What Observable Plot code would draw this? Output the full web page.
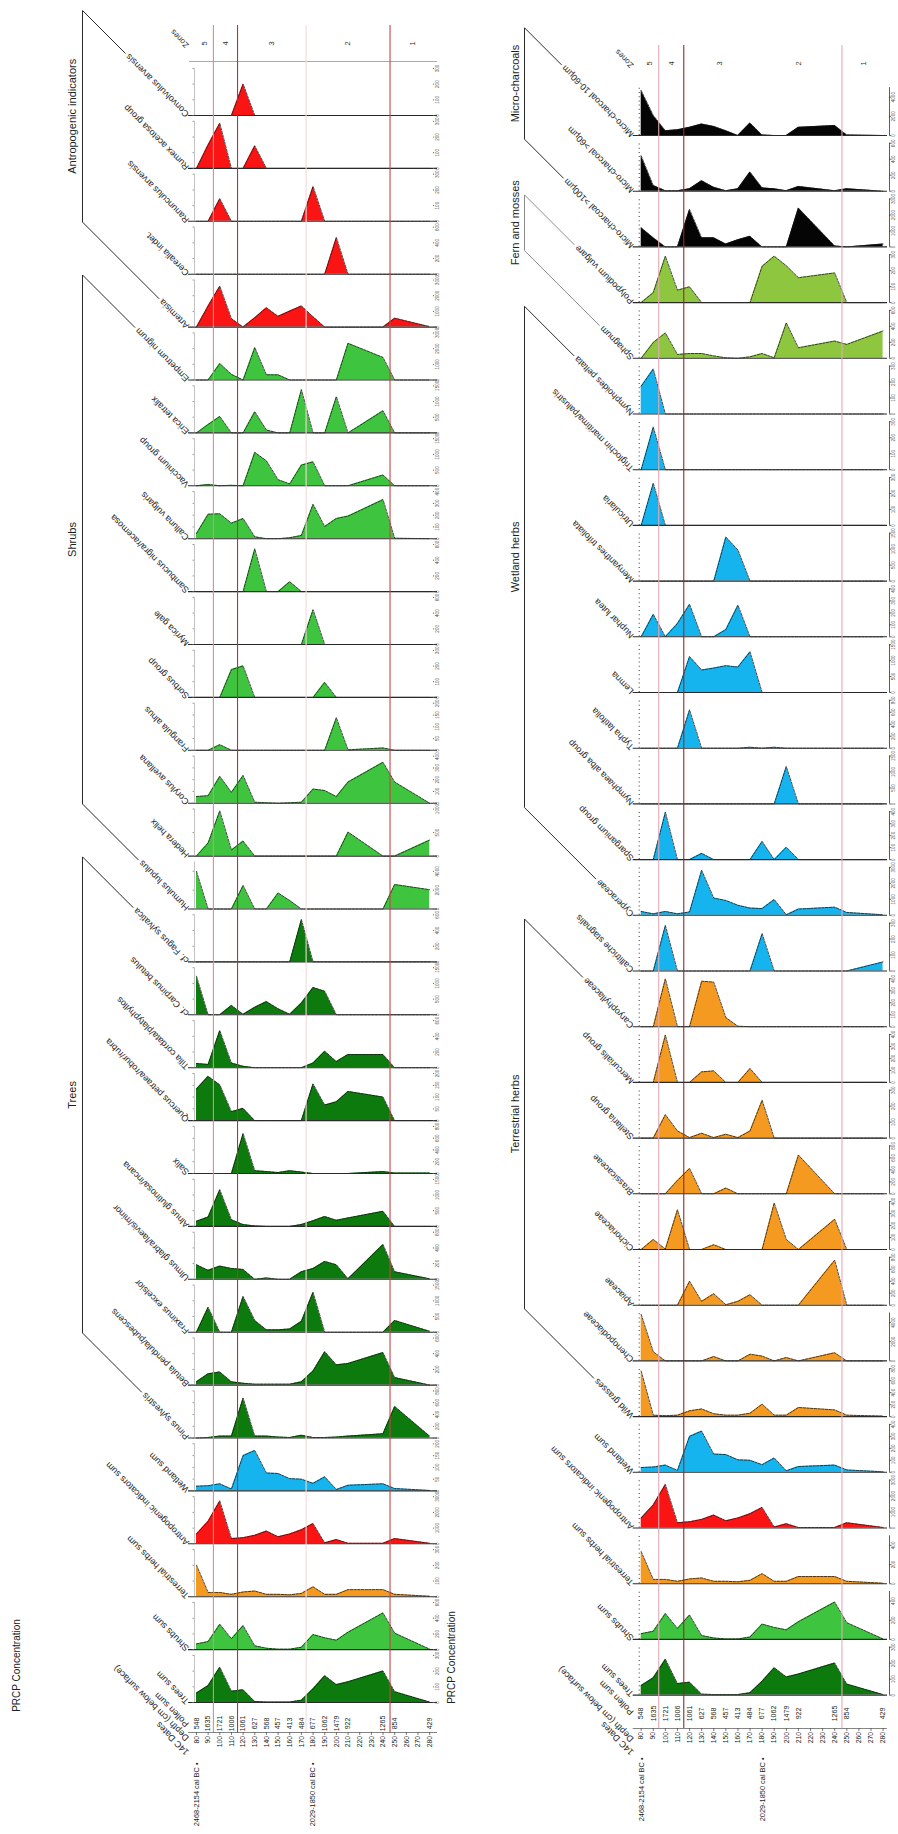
<!DOCTYPE html>
<html>
<head>
<meta charset="utf-8">
<script src="https://cdn.jsdelivr.net/npm/d3@7"></script>
<script src="https://cdn.jsdelivr.net/npm/@observablehq/plot@0.6"></script>
<style>
  html, body { margin: 0; padding: 0; background: #ffffff; }
  #wrap { position: relative; width: 898px; height: 1834px; overflow: hidden; background: #fff; }
  #left { position: absolute; left: 0; top: 0; }
  #right { position: absolute; left: 444px; top: 0; }
  svg { display: block; }
</style>
</head>
<body>
<div id="wrap"><div id="left"></div><div id="right"></div></div>
<script>
// ---------------- DATA ----------------
// sample depths (cm below surface) and pollen sums
const depths = [80, 90, 100, 110, 120, 130, 140, 150, 160, 170, 180, 190, 200, 210, 240, 250, 280];
const pollenSum = [548, 1635, 1721, 1006, 1061, 627, 568, 457, 413, 484, 677, 1062, 1479, 922, 1265, 854, 429];
const depthTicks = [80, 90, 100, 110, 120, 130, 140, 150, 160, 170, 180, 190, 200, 210, 220, 230, 240, 250, 260, 270, 280];
const zoneBounds = [94.5, 115.2, 174, 246];
const zoneNames = ["5", "4", "3", "2", "1"];
const dateLabels = ["2468-2154 cal BC \u2022", "2029-1850 cal BC \u2022"];
const dateDepths = [80, 180];

// values are read as % of each strip's axis (axis maximum in the *Max arrays)
// --- left diagram ---
const convolvulusArvensis = [0,0,0,0,67,0,0,0,0,0,0,0,0,0,0,0,0];
const rumexAcetosa       = [0,50,96,0,0,48,0,0,0,0,0,0,0,0,0,0,0];
const ranunculusArvensis = [0,0,48,0,0,0,0,0,0,0,74,0,0,0,0,0,0];
const cerealia           = [0,0,0,0,0,0,0,0,0,0,0,0,78,0,0,0,0];
const artemisia          = [0,45,87,18,0,20,41,23,34,45,22,0,0,0,0,19,1];
const empetrum           = [0,0,35,12,0,69,11,11,0,0,0,0,0,78,48,0,0];
const erica              = [0,18,35,0,0,45,6,0,0,92,0,0,77,0,47,0,0];
const vaccinium          = [0,3,0,1,0,71,53,13,4,44,51,0,0,0,23,0,0];
const calluna            = [11,52,53,33,43,4,0,0,2,7,73,26,43,48,83,1,0];
const sambucus           = [0,0,0,0,0,91,0,0,21,0,0,0,0,0,0,0,0];
const myrica             = [0,0,0,0,0,0,0,0,0,0,74,0,0,0,0,0,0];
const sorbus             = [0,0,0,59,67,0,0,0,0,0,0,32,0,0,0,0,0];
const frangula           = [0,0,12,0,0,0,0,0,0,0,0,0,69,1,5,0,0];
const corylus            = [14,16,57,23,59,2,1,0,1,2,30,27,14,45,87,45,0];
const hedera             = [0,28,96,13,32,0,0,0,0,0,0,0,0,51,0,0,34];
const humulus            = [80,0,0,0,50,0,0,34,18,0,0,0,0,0,0,52,41];
const fagus              = [0,0,0,0,0,0,0,0,0,90,0,0,0,0,0,0,0];
const carpinus           = [82,0,0,20,1,16,28,13,1,25,58,50,0,0,0,0,0];
const tilia              = [9,7,79,10,3,0,0,0,0,0,10,35,13,28,28,0,0];
const quercus            = [67,94,76,19,26,0,0,0,0,0,78,33,40,62,50,0,0];
const salix              = [0,0,0,0,85,6,4,2,6,3,0,0,0,0,4,1,1];
const alnus              = [11,20,78,14,4,1,0,0,0,4,12,21,13,18,32,0,0];
const ulmus              = [31,19,28,23,21,0,3,0,0,16,23,38,31,1,74,16,1];
const fraxinus           = [0,53,0,0,76,25,5,5,7,23,85,0,0,0,0,25,2];
const betula             = [7,24,28,7,4,2,2,2,2,7,30,71,43,46,69,16,0];
const pinus              = [0,1,4,4,85,4,4,2,1,6,1,1,2,4,9,67,4];
// --- sums (both diagrams) ---
const wetlandSum = [10,11,15,4,75,86,38,37,26,25,16,30,3,12,15,5,1];
const anthroSum  = [21,48,91,11,13,18,27,15,21,30,43,2,9,1,1,11,1];
const terrSum    = [67,9,9,5,10,12,5,5,4,7,21,5,5,15,15,5,1];
const shrubsSum  = [12,17,54,23,51,8,3,1,1,5,32,25,20,37,78,35,1];
const treesSum   = [20,36,75,24,27,2,1,1,1,5,29,57,38,44,67,23,1];
// --- right diagram ---
const charcoal1060   = [94,42,10,12,17,24,19,10,0,26,1,0,0,17,21,1,0];
const charcoal60     = [74,12,1,1,5,22,8,1,5,40,7,5,1,10,1,5,0];
const charcoal100    = [40,19,0,0,78,19,19,6,15,22,0,0,0,81,2,0,6];
const polypodium     = [0,21,97,26,33,0,0,0,0,0,76,97,77,52,62,0,0];
const sphagnum       = [0,33,53,8,10,10,5,1,0,3,10,1,74,22,36,29,57];
const nymphoides     = [58,94,0,0,0,0,0,0,0,0,0,0,0,0,0,0,0];
const triglochin     = [0,89,0,0,0,0,0,0,0,0,0,0,0,0,0,0,0];
const utricularia    = [0,88,0,0,0,0,0,0,0,0,0,0,0,0,0,0,0];
const menyanthes     = [0,0,0,0,0,0,0,92,65,0,0,0,0,0,0,0,0];
const nuphar         = [0,47,0,28,68,0,0,15,66,0,0,0,0,0,0,0,0];
const lemna          = [0,0,0,0,75,47,51,56,53,85,0,0,0,0,0,0,0];
const typha          = [0,0,0,0,80,0,0,0,0,2,0,2,0,0,0,0,0];
const nymphaea       = [0,0,0,0,0,0,0,0,0,0,0,0,78,0,0,0,0];
const sparganium     = [0,0,99,0,0,13,0,0,0,0,38,0,26,0,0,0,0];
const cyperaceae     = [8,3,8,3,7,94,36,31,21,15,14,33,1,13,17,6,1];
const callitriche    = [0,0,95,0,0,0,0,0,0,0,78,0,0,0,0,0,19];
const caryophyllaceae= [0,0,100,0,0,95,93,19,1,0,0,0,0,0,0,0,0];
const mercurialis    = [0,0,99,0,0,22,24,0,0,29,0,0,0,0,0,0,0];
const stellaria      = [0,0,49,15,1,10,1,8,1,15,79,0,0,0,0,0,0];
const brassicaceae   = [0,0,0,28,53,0,0,12,0,0,0,0,0,81,0,0,0];
const cichoriaceae   = [0,21,1,83,0,0,10,0,0,0,0,97,21,0,63,0,0];
const apiaceae       = [0,0,0,0,50,8,24,1,8,22,0,0,0,0,94,0,0];
const chenopodiaceae = [97,19,0,0,0,0,9,0,0,14,10,0,7,0,17,0,0];
const wildGrasses    = [95,3,2,3,12,16,6,3,3,7,26,3,3,19,14,3,1];

// taxon names (top to bottom) and axis maxima
const leftNames = ["Convolvulus arvensis","Rumex acetosa group","Ranunculus arvensis","Cerealia indet.","Artemisia",
  "Empetrum nigrum","Erica tetralix","Vaccinium group","Calluna vulgaris","Sambucus nigra/racemosa","Myrica gale",
  "Sorbus group","Frangula alnus","Corylus avellana","Hedera helix","Humulus lupulus",
  "cf. Fagus sylvatica","cf. Carpinus betulus","Tilia cordata/platyphyllos","Quercus petraea/robur/rubra","Salix",
  "Alnus glutinosa/incana","Ulmus glabra/laevis/minor","Fraxinus excelsior","Betula pendula/pubescens","Pinus sylvestris",
  "Wetland sum","Antropogenic indicators sum","Terrestrial herbs sum","Shrubs sum","Trees sum"];
const leftMax = [300,300,300,600,3000, 3000,1500,1500,400,600,600,300,200,400,1000,5000,
  600,1500,600,200,800,1500,600,1500,600,800, 200,3000,300,600,300];
const rightNames = ["Micro-charcoal 10-60\u00b5m","Micro-charcoal >60\u00b5m","Micro-charcoal >100\u00b5m",
  "Polypodium vulgare","Sphagnum",
  "Nymphoides peltata","Triglochin maritima/palustris","Utricularia","Menyanthes trifoliata","Nuphar lutea","Lemna",
  "Typha latifolia","Nymphaea alba group","Sparganium group","Cyperaceae","Callitriche stagnalis",
  "Caryophyllaceae","Mercurialis group","Stellaria group","Brassicaceae","Cichoriaceae","Apiaceae","Chenopodiaceae","Wild grasses",
  "Wetland sum","Antropogenic indicators sum","Terrestrial herbs sum","Shrubs sum","Trees sum"];
const rightMax = [5000,600,3000, 300,600, 300,300,300,1500,400,1500,800,1500,400,3000,300,
  400,400,300,800,400,800,5000,800, 400,3000,500,500,300];

// colours
const cTrees = "#0c7a0c", cShrubs = "#3fc43f", cAnthro = "#fb1414", cTerr = "#f59a20",
      cWet = "#15b4ee", cFern = "#8fc640", cChar = "#050505";

const leftValues = [convolvulusArvensis, rumexAcetosa, ranunculusArvensis, cerealia, artemisia,
  empetrum, erica, vaccinium, calluna, sambucus, myrica, sorbus, frangula, corylus, hedera, humulus,
  fagus, carpinus, tilia, quercus, salix, alnus, ulmus, fraxinus, betula, pinus,
  wetlandSum, anthroSum, terrSum, shrubsSum, treesSum];
const leftColors = [...Array(5).fill(cAnthro), ...Array(11).fill(cShrubs), ...Array(10).fill(cTrees),
  cWet, cAnthro, cTerr, cShrubs, cTrees];
const rightValues = [charcoal1060, charcoal60, charcoal100, polypodium, sphagnum,
  nymphoides, triglochin, utricularia, menyanthes, nuphar, lemna, typha, nymphaea, sparganium, cyperaceae, callitriche,
  caryophyllaceae, mercurialis, stellaria, brassicaceae, cichoriaceae, apiaceae, chenopodiaceae, wildGrasses,
  wetlandSum, anthroSum, terrSum, shrubsSum, treesSum];
const rightColors = [cChar, cChar, cChar, cFern, cFern, ...Array(11).fill(cWet), ...Array(8).fill(cTerr),
  cWet, cAnthro, cTerr, cShrubs, cTrees];

const leftGroups = [
  {label: "Antropogenic indicators", from: 0, to: 4},
  {label: "Shrubs", from: 5, to: 15},
  {label: "Trees", from: 16, to: 25}];
const rightGroups = [
  {label: "Micro-charcoals", from: 0, to: 2},
  {label: "Fern and mosses", from: 3, to: 4, grey: true},
  {label: "Wetland herbs", from: 5, to: 14},
  {label: "Terrestrial herbs", from: 16, to: 23}];

// ---------------- DRAWING ----------------
const FONT = "'Liberation Sans', Arial, sans-serif";
const ctx = document.createElement("canvas").getContext("2d");
function textWidth(s, size) { ctx.font = `${size}px 'Liberation Sans'`; return ctx.measureText(s).width; }

function diagram(cfg) {
  const {names, values, colors, maxes, groups, width, X0, X1, dmax, Y0, step, h} = cfg;
  const n = names.length;
  const kx = (X1 - X0) / (dmax - 80);
  const X = px => 80 + (px - X0) / kx;            // pixel -> depth
  const Y = py => (py - (Y0 - step)) / step;      // pixel -> strip units
  const topOf = (i, v) => i + 1 - v / 100 * h;
  const labelFS = 9;
  const labelX = X0 + cfg.labelDx;

  const strips = names.map((name, i) => ({i, name, color: colors[i], max: maxes[i]}));
  const rows = strips.flatMap(s => depths.map((d, j) => ({i: s.i, name: s.name, depth: d, v: values[s.i][j], color: s.color})));
  const tickRows = strips.flatMap(s => d3.ticks(0, s.max, 3).filter(t => t <= s.max)
      .map(t => ({t, y: s.i + 1 - t / s.max * h})));
  const zoneRows = zoneBounds.map((d, k) => ({d, c: cfg.zoneColors[k]})).filter(z => z.c !== "none");
  const edges = [80, ...zoneBounds, dmax];
  const zoneMid = zoneNames.map((z, k) => ({z, d: (edges[k] + edges[k + 1]) / 2}));

  // brackets: vertical bar + diagonals along the label lines of first and last taxon
  const bracketPts = [];
  const groupRows = groups.map((g, gi) => {
    const L = labelX - cfg.bracketX;
    const b1 = Y0 + step * g.from, b2 = Y0 + step * g.to;
    const w1 = (textWidth(names[g.from], labelFS) + 3) / Math.SQRT2;
    const w2 = (textWidth(names[g.to], labelFS) + 3) / Math.SQRT2;
    const pts = [[labelX - w1, b1 - w1], [cfg.bracketX, b1 - L], [cfg.bracketX, b2 - L], [labelX - w2, b2 - w2]];
    pts.forEach(([px, py]) => bracketPts.push({g: gi, x: X(px), y: Y(py), grey: !!g.grey}));
    return {label: g.label, y: Y(((b1 - L) + (b2 - L)) / 2)};
  });

  const marks = [];
  if (cfg.headerLineY) marks.push(Plot.ruleY([cfg.headerLineY], {y: d => Y(d), x1: () => X(labelX + 2), x2: () => X(X1 + 2), stroke: "#a0a0a0", strokeWidth: 0.9}));
  // areas + dashed outlines
  marks.push(Plot.areaY(rows, {x: "depth", y1: d => d.i + 1, y2: d => topOf(d.i, d.v), z: "name", fill: "color", curve: "linear"}));
  marks.push(Plot.line(rows, {x: "depth", y: d => topOf(d.i, d.v), z: "name", stroke: "#151515", strokeWidth: 0.75, strokeDasharray: "2.4,1.3"}));
  // baselines
  marks.push(Plot.ruleY(strips, {y: d => d.i + 1, x1: () => X(labelX + 1), x2: () => X(X1 + 2), stroke: "#2a2a2a", strokeWidth: 1.1}));
  // left axis of each strip
  if (cfg.dotted) {
    marks.push(Plot.ruleX(strips, {x: () => X(X0 - 2), y1: d => d.i + 1, y2: d => d.i + 1 - h, stroke: "#444", strokeWidth: 1.1, strokeDasharray: "1,3.2"}));
  } else {
    marks.push(Plot.ruleX(strips, {x: () => X(X0 - 2), y1: d => d.i + 1, y2: d => d.i + 1 - h, stroke: "#a8a8a8", strokeWidth: 0.7}));
    marks.push(Plot.ruleY(tickRows, {y: "y", x1: () => X(X0 - 3.5), x2: () => X(X0 - 2), stroke: "#777", strokeWidth: 0.7}));
  }
  // right axis ticks / labels
  if (cfg.rightAxis) {
    marks.push(Plot.ruleX(strips, {x: () => X(X1 + cfg.rightAxis), y1: d => d.i + 1, y2: d => d.i + 1 - h, stroke: "#333", strokeWidth: 0.8}));
    marks.push(Plot.ruleY(tickRows, {y: "y", x1: () => X(X1 + cfg.rightAxis), x2: () => X(X1 + cfg.rightAxis + 2), stroke: "#333", strokeWidth: 0.7}));
  } else {
    marks.push(Plot.dot(tickRows, {x: () => X(X1 - 2), y: "y", r: 0.6, fill: "#666"}));
  }
  marks.push(Plot.text(tickRows, {x: () => X(X1 + cfg.tickLabelDx), y: "y", text: d => String(d.t), rotate: -90, fontSize: 4.6, fill: "#555"}));
  // zone lines and zone header
  marks.push(Plot.ruleX(zoneRows, {x: "d", y1: () => Y(cfg.zoneTop), y2: () => Y(cfg.zoneBottom), stroke: "c", strokeWidth: 1.1}));
  marks.push(Plot.text(zoneMid, {x: "d", y: () => Y(cfg.zoneNumY), text: "z", rotate: -90, fontSize: 7.5, fill: "#333"}));
  marks.push(Plot.text(["Zones"], {x: () => 80, y: () => Y(cfg.zonesLabelY), dx: cfg.labelDx, text: d => d, rotate: 225, textAnchor: "start", lineAnchor: "middle", fontSize: 8, fill: "#333"}));
  // taxon labels
  marks.push(Plot.text(strips, {x: () => 80, y: d => d.i + 1, dx: cfg.labelDx, text: "name", rotate: 225, textAnchor: "start", lineAnchor: "middle", fontSize: labelFS, fill: "#1e1e1e"}));
  // brackets and group labels
  marks.push(Plot.line(bracketPts, {x: "x", y: "y", z: "g", stroke: d => d.grey ? "#8a8a8a" : "#2a2a2a", strokeWidth: 1}));
  marks.push(Plot.text(groupRows, {x: () => X(cfg.groupLabelX), y: "y", text: "label", rotate: -90, lineAnchor: "middle", fontSize: 11, fill: "#1e1e1e"}));
  // bottom: pollen sums, depth axis, dates
  marks.push(Plot.text(depths, {x: d => d, y: () => Y(cfg.pollenY), text: (d, j) => String(pollenSum[j]), rotate: -90, fontSize: 7, fill: "#222"}));
  marks.push(Plot.ruleY([cfg.axisY], {y: d => Y(d), x1: () => X(labelX + 1), x2: () => X(X1 + 2), stroke: "#666", strokeWidth: 0.8}));
  marks.push(Plot.ruleX(depthTicks, {x: d => d, y1: () => Y(cfg.axisY), y2: () => Y(cfg.axisY + 3), stroke: "#444", strokeWidth: 0.7}));
  marks.push(Plot.text(depthTicks, {x: d => d, y: () => Y(cfg.axisY + 3.5), text: d => String(d), rotate: -90, textAnchor: "end", fontSize: 6.8, fill: "#222"}));
  marks.push(Plot.text(dateDepths, {x: d => d, y: () => Y(cfg.datesY), text: (d, j) => dateLabels[j], rotate: -90, textAnchor: "end", fontSize: 7.4, fill: "#222"}));
  const bottomLabels = [
    {t: "Pollen sum", y: cfg.pollenLabY},
    {t: "Depth (cm below surface)", y: cfg.depthLabY},
    {t: "14C Dates", y: cfg.datesLabY}];
  marks.push(Plot.text(bottomLabels, {x: () => 80, y: d => Y(d.y), dx: cfg.labelDx, text: "t", rotate: 225, textAnchor: "start", lineAnchor: "middle", fontSize: labelFS, fill: "#1e1e1e"}));
  marks.push(Plot.text(["PRCP Concentration"], {x: () => X(cfg.prcpX), y: () => Y(cfg.prcpY), text: d => d, rotate: -90, lineAnchor: "middle", fontSize: 10, fill: "#222"}));

  return Plot.plot({
    width, height: 1834, margin: 0,
    x: {domain: [80, dmax], range: [X0, X1], axis: null},
    y: {domain: [0, n], range: [Y0 - step, Y0 - step + step * n], axis: null},
    color: {type: "identity"},
    style: {fontFamily: FONT, background: "transparent", overflow: "visible"},
    marks
  });
}

const leftPlot = diagram({
  names: leftNames, values: leftValues, colors: leftColors, maxes: leftMax, groups: leftGroups,
  width: 444, X0: 196, X1: 435, dmax: 285, Y0: 115, step: 52.9, h: 0.89,
  labelDx: -9, bracketX: 82, groupLabelX: 72,
  zoneColors: ["#d88e8e", "#b33434", "#f3d9d9", "#c24444"], zoneTop: 25, zoneBottom: 1733, zoneNumY: 43,
  zonesLabelY: 46, headerLineY: 61, dotted: false, rightAxis: 0, tickLabelDx: 2.5,
  pollenY: 1723, axisY: 1732, datesY: 1762, pollenLabY: 1725, depthLabY: 1739, datesLabY: 1753,
  prcpX: 16, prcpY: 1665
});
const rightPlot = diagram({
  names: rightNames, values: rightValues, colors: rightColors, maxes: rightMax, groups: rightGroups,
  width: 454, X0: 196.7, X1: 441, dmax: 282, Y0: 135, step: 55.7, h: 0.86,
  labelDx: -9, bracketX: 80, groupLabelX: 71,
  zoneColors: ["#e2a9b4", "#8e2b2b", "none", "#e2aab6"], zoneTop: 45, zoneBottom: 1728, zoneNumY: 63,
  zonesLabelY: 66, headerLineY: null, dotted: true, rightAxis: 4, tickLabelDx: 8.5,
  pollenY: 1713, axisY: 1728, datesY: 1757, pollenLabY: 1713, depthLabY: 1740, datesLabY: 1753,
  prcpX: 7, prcpY: 1657
});
document.getElementById("left").append(leftPlot);
document.getElementById("right").append(rightPlot);
</script>
</body>
</html>
